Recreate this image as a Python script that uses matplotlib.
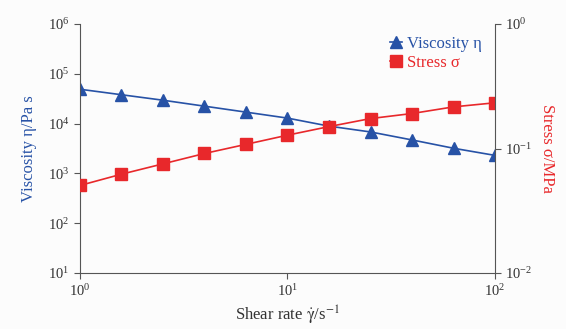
import matplotlib.pyplot as plt
import matplotlib.ticker as mticker

plt.rcParams['font.family'] = ['Liberation Serif', 'DejaVu Serif']
plt.rcParams['mathtext.fontset'] = 'stix'
plt.rcParams['axes.unicode_minus'] = False

shear_rate = [1.0, 1.585, 2.512, 3.981, 6.31, 10.0, 15.85, 25.12, 39.81, 63.1, 100.0]
viscosity = [4.9e4, 3.8e4, 2.95e4, 2.24e4, 1.70e4, 1.29e4, 8.9e3, 6.8e3, 4.7e3, 3.2e3, 2.3e3]
stress = [0.0505, 0.0622, 0.0753, 0.0912, 0.108, 0.128, 0.150, 0.174, 0.191, 0.216, 0.233]

blue = '#2752a6'
red = '#e8282b'
spine_c = '#555555'

fig = plt.figure(figsize=(5.66, 3.29), dpi=100, facecolor='#fcfcfc')
ax = fig.add_axes([0.1413, 0.1702, 0.7333, 0.7568])
ax.set_facecolor('#fcfcfc')
ax2 = ax.twinx()

l1, = ax.plot(shear_rate, viscosity, color=blue, marker='^', markersize=8,
              linewidth=1.2, label='Viscosity η')
l2, = ax2.plot(shear_rate, stress, color=red, marker='s', markersize=8.5,
               linewidth=1.2, label='Stress σ')

ax.set_xscale('log')
ax.set_yscale('log')
ax2.set_yscale('log')
ax.set_xlim(1, 100)
ax.set_ylim(10, 1e6)
ax2.set_ylim(0.01, 1)

for a in (ax, ax2):
    a.yaxis.set_minor_locator(mticker.NullLocator())
    a.tick_params(which='major', direction='out', length=4, width=0.8,
                  color=spine_c, labelsize=10.5, labelcolor='#333333')
    for s in a.spines.values():
        s.set_color(spine_c)
    a.spines['top'].set_visible(False)
ax.xaxis.set_minor_locator(mticker.NullLocator())
ax.spines['right'].set_visible(False)
ax2.spines['left'].set_visible(False)
ax2.spines['bottom'].set_visible(False)

ax.set_xlabel(r'Shear rate $\dot{\mathrm{\gamma}}$/s$^{-1}$', fontsize=12,
              color='#333333', labelpad=3)
ax.set_ylabel('Viscosity η/Pa s', fontsize=12, color=blue, labelpad=8)
ax2.set_ylabel('Stress σ/MPa', fontsize=12, color=red, rotation=270, labelpad=16)

leg = ax.legend(handles=[l1, l2], loc='upper left', bbox_to_anchor=(0.72, 1.0),
                frameon=False, fontsize=12, handlelength=0.7, handletextpad=0.3,
                labelspacing=0.2, borderaxespad=0.3)
for t, c in zip(leg.get_texts(), [blue, red]):
    t.set_color(c)

fig.savefig('out.png', dpi=100, facecolor=fig.get_facecolor())
